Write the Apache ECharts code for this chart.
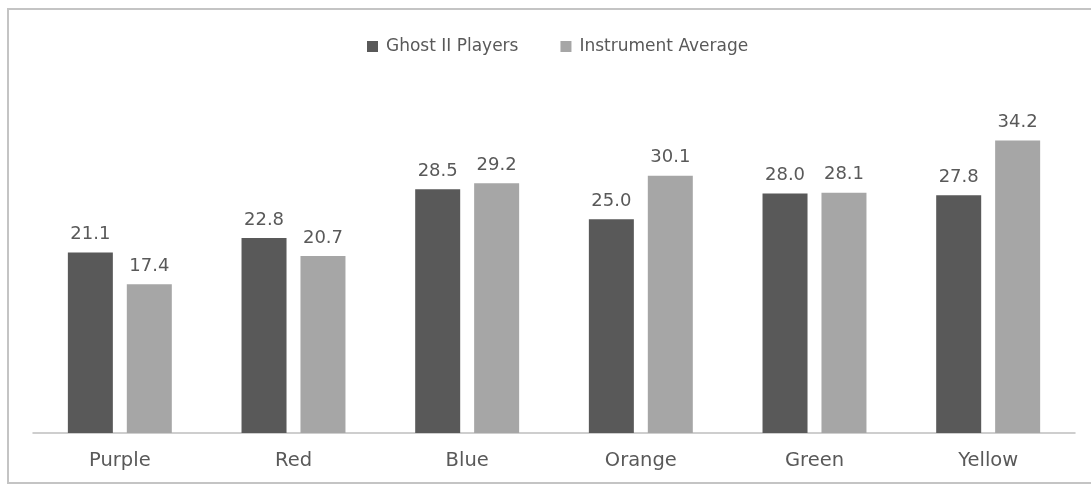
<!DOCTYPE html>
<html>
<head>
<meta charset="utf-8">
<script src="https://cdn.jsdelivr.net/npm/echarts@6/dist/echarts.min.js"></script>
<style>
  html, body { margin: 0; padding: 0; background: #ffffff; }
  #chart { width: 1091px; height: 486px; }
</style>
</head>
<body>
<div id="chart"></div>
<script>
// Colour categories and the two compared series
const categories = ['Purple', 'Red', 'Blue', 'Orange', 'Green', 'Yellow'];
const ghostPlayers = [21.1, 22.8, 28.5, 25.0, 28.0, 27.8];
const instrumentAverage = [17.4, 20.7, 29.2, 30.1, 28.1, 34.2];
const seriesNames = ['Ghost II Players', 'Instrument Average'];

const FONT = '"DejaVu Sans", sans-serif';
const TEXT = '#595959';

const chart = echarts.init(document.getElementById('chart'), null, { renderer: 'canvas' });

const valueLabel = {
  show: true,
  position: 'top',
  distance: 9,
  color: TEXT,
  fontFamily: FONT,
  fontSize: 18,
  formatter: p => p.value.toFixed(1)
};

chart.setOption({
  backgroundColor: '#ffffff',
  animation: false,
  graphic: [{
    type: 'rect',
    shape: { x: 8, y: 9, width: 1100, height: 474 },
    style: { fill: 'none', stroke: '#c4c4c4', lineWidth: 2 },
    silent: true
  }],
  legend: {
    top: 33,
    left: 362,
    itemWidth: 11,
    itemHeight: 11,
    itemGap: 42,
    icon: 'rect',
    textStyle: { color: TEXT, fontFamily: FONT, fontSize: 17, padding: [0, 0, 0, 3] },
    data: seriesNames
  },
  grid: { left: 33, right: 16, top: 91, bottom: 53, containLabel: false },
  xAxis: {
    type: 'category',
    data: categories,
    axisLine: { lineStyle: { color: '#bfbfbf', width: 1.5 } },
    axisTick: { show: false },
    axisLabel: { color: TEXT, fontFamily: FONT, fontSize: 19.5, margin: 18 }
  },
  yAxis: {
    type: 'value',
    min: 0,
    max: 40,
    interval: 5,
    show: false,
    splitLine: { show: false }
  },
  series: [
    {
      name: seriesNames[0],
      type: 'bar',
      data: ghostPlayers,
      barWidth: 45,
      barGap: '31%',
      itemStyle: { color: '#595959' },
      label: valueLabel
    },
    {
      name: seriesNames[1],
      type: 'bar',
      data: instrumentAverage,
      barWidth: 45,
      itemStyle: { color: '#a6a6a6' },
      label: valueLabel
    }
  ]
});
</script>
</body>
</html>
